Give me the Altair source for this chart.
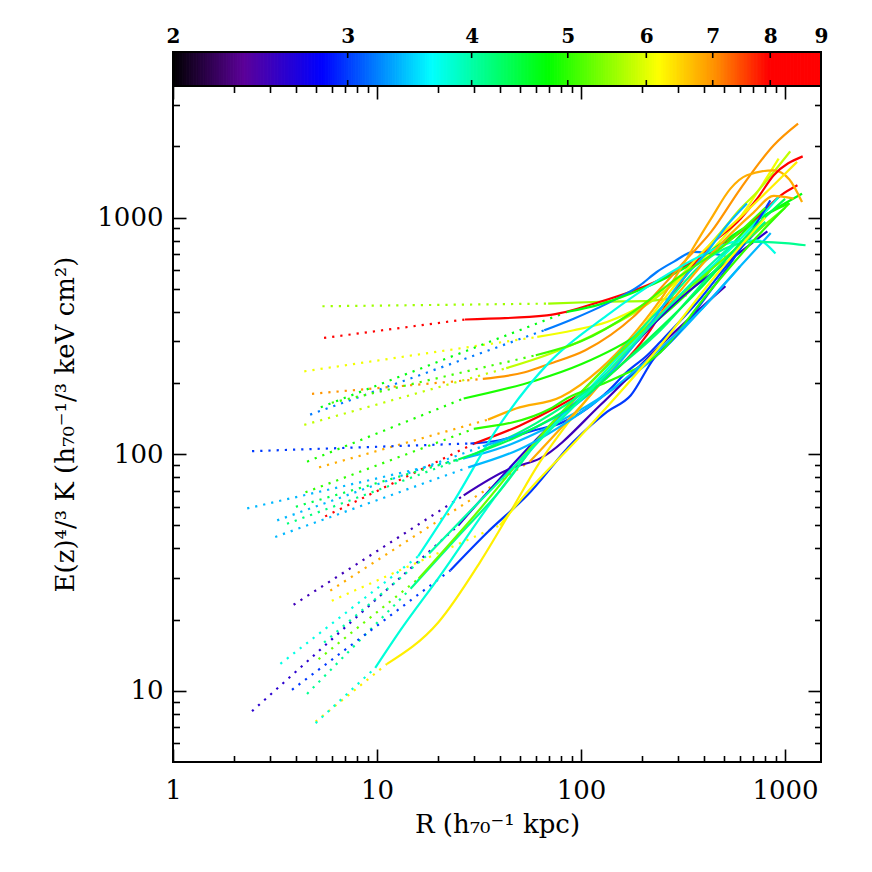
import altair as alt
import pandas as pd
import numpy as np

# ---- data: temperature (keV) and entropy profiles (R in kpc, K in keV cm^2)
temps = [5.6, 8.6, 6.1, 3.2, 4.7, 5.8, 7.0, 6.8, 3.0, 3.4,
         4.9, 8.3, 2.5, 2.6, 6.3, 3.8, 3.75, 4.1, 3.0, 5.3,
         6.8, 5.0, 4.2, 3.4, 3.4, 5.1, 4.4, 6.2, 4.0]

dot_r = [[5.4, 69], [5.5, 27], [4.4, 61], [4.7, 66], [5.3, 85],
         [4.4, 43], [4.8, 33], [5.2, 35], [2.44, 28.7], [2.31, 26.6],
         [4.54, 26.6], [5.57, 30], [3.9, 26.6], [2.44, 25], [5.0, 11.2],
         [5.0, 9.8], [3.36, 15.9], [4.54, 14.6], [3.83, 22.9], [5.17, 16],
         [5.9, 56], [4.46, 29.8], [3.62, 30], [3.24, 33], [3.17, 28],
         [6.0, 60], [4.0, 25], [6.0, 40], [5.5, 18]]
dot_k = [[422, 433], [310, 371], [224, 313], [147, 334], [158, 399],
         [133, 231], [180, 208], [88, 140], [103, 111], [59, 96],
         [93, 172], [54.6, 111], [23.1, 67], [8.2, 50], [7.4, 13],
         [7.3, 12.5], [13, 37], [9.7, 27], [10.1, 32.3], [13.6, 29.8],
         [26.5, 93], [69, 128], [50.8, 100], [52.5, 108], [44.7, 88],
         [165, 262], [60, 95], [24, 50], [16, 38]]

sol_r = [[69, 124, 219, 330],
         [27, 68, 124, 230, 385, 520, 730, 950, 1150],
         [61, 92, 134, 307, 600, 930],
         [66, 92, 134, 195, 235, 284, 356, 510],
         [85, 124, 200, 330, 600, 1000, 1211],
         [43, 70, 124, 250, 485, 605, 729, 880, 1060],
         [33, 53, 70, 105, 180, 262, 331, 434, 605, 880, 1158],
         [35, 48, 80, 124, 245, 434, 540, 650, 880, 1050, 1211],
         [28.7, 38.7, 58.6, 79, 107, 134, 168, 211, 245, 385, 604, 800],
         [26.6, 45, 69, 120, 245, 400, 620, 850],
         [26.6, 60, 100, 200, 400, 700, 1050],
         [30, 50, 79, 115, 156, 211, 284, 415, 605, 730, 880, 1220],
         [26.6, 45, 63, 124, 188, 245, 510],
         [25, 68, 130, 318, 448, 605, 819],
         [11.2, 20, 32, 45, 63, 82, 130, 219, 385, 600, 900, 1145],
         [9.8, 13, 20.4, 35, 60, 110, 200, 350, 560, 930],
         [15.9, 24, 38.7, 70, 134, 245, 400, 560, 730, 897],
         [14.6, 25, 40, 68, 130, 250, 450, 700, 1000, 1260],
         [22.9, 35, 54.5, 92, 134, 175, 227, 284, 415, 605, 847],
         [16, 30, 68, 130, 250, 450, 700, 1000],
         [56, 100, 200, 300, 434, 700, 880, 1102],
         [29.8, 71, 85, 134, 245, 420, 700, 1050],
         [30, 60, 120, 250, 420, 600, 800],
         [33, 60, 110, 200, 307, 415, 520, 650],
         [28, 50, 100, 200, 400, 600],
         [60, 100, 180, 300, 500, 800],
         [25, 50, 100, 200, 400, 700, 1000],
         [40, 52, 100, 245, 450, 800],
         [18, 30, 60, 120, 240, 420, 600]]
sol_k = [[433, 441, 445, 470],
         [371, 386, 441, 535, 680, 790, 1000, 1240, 1370],
         [313, 334, 362, 552, 1000, 1775],
         [334, 374, 433, 518, 589, 650, 716, 690],
         [399, 430, 500, 620, 880, 1150, 1263],
         [231, 265, 330, 480, 870, 1092, 1284, 1560, 1905],
         [208, 222, 241, 275, 380, 535, 671, 870, 1326, 2022, 2495],
         [140, 156, 175, 229, 450, 990, 1326, 1510, 1585, 1450, 1164],
         [111, 114, 126, 135, 156, 183, 223, 262, 299, 455, 740, 950],
         [96, 110, 130, 170, 270, 420, 640, 860],
         [172, 205, 240, 330, 560, 950, 1150],
         [111, 132, 161, 195, 237, 320, 480, 740, 990, 1203, 1510, 1815],
         [67, 87, 96, 161, 230, 288, 513],
         [50, 128, 215, 469, 589, 716, 875],
         [13, 19.5, 35, 57, 93, 128, 210, 380, 700, 1000, 1400, 1720],
         [12.5, 18, 30.7, 60, 110, 190, 330, 520, 760, 1223],
         [37, 64, 128, 245, 386, 552, 700, 790, 802, 705],
         [27, 45, 70, 128, 230, 420, 700, 790, 780, 764],
         [32.3, 47, 67, 113, 151, 177, 253, 308, 469, 740, 1183],
         [29.8, 55, 128, 230, 400, 620, 850, 1100],
         [93, 160, 320, 480, 700, 1050, 1236, 1203],
         [128, 156, 172, 202, 270, 480, 800, 1150],
         [100, 135, 200, 340, 560, 760, 960],
         [108, 130, 180, 320, 535, 716, 928, 1146],
         [88, 105, 150, 240, 420, 620],
         [262, 300, 400, 560, 760, 1100],
         [95, 120, 170, 290, 520, 900, 1200],
         [50, 66, 120, 288, 560, 1000],
         [38, 60, 110, 200, 380, 620, 820]]

# axis ticks / labels
x_major = [1, 10, 100, 1000]
x_minor = [2, 3, 4, 5, 6, 7, 8, 9, 20, 30, 40, 50, 60, 70, 80, 90,
           200, 300, 400, 500, 600, 700, 800, 900]
y_major = [10, 100, 1000]
y_minor = [6, 7, 8, 9, 20, 30, 40, 50, 60, 70, 80, 90,
           200, 300, 400, 500, 600, 700, 800, 900, 2000, 3000]
cb_labels = [2, 3, 4, 5, 6, 7, 8, 9]
cb_ticks = [3, 4, 5, 6, 7, 8]

# colour table (rainbow), stops in keV
c_dom = [2, 2.36, 2.83, 3.65, 4.78, 6.18, 7.07, 7.98, 9]
c_rng = ['#000000', '#5c0099', '#0000ff', '#00ffff', '#00ff00',
         '#ffff00', '#ff8c00', '#ff0000', '#ff0000']

# ---- build tables
rows_d, rows_s = [], []
for i, t in enumerate(temps):
    for j, (r, k) in enumerate(zip(dot_r[i], dot_k[i])):
        rows_d.append(dict(id=i, T=t, r=r, K=k, o=j))
    for j, (r, k) in enumerate(zip(sol_r[i], sol_k[i])):
        rows_s.append(dict(id=i, T=t, r=r, K=k, o=j))
df_d = pd.DataFrame(rows_d)
df_s = pd.DataFrame(rows_s)

n = 280
edges = 2 * 4.5 ** (np.arange(n + 1) / n)
df_cb = pd.DataFrame({'t0': edges[:-1], 't1': edges[1:],
                      'tm': np.sqrt(edges[:-1] * edges[1:])})
df_cbt = pd.DataFrame({'v': cb_ticks})
df_cbb = pd.DataFrame({'a': [2], 'b': [9]})
df_ax = pd.DataFrame({'r': [1.0], 'K': [10.0]})

W, H = 648, 676
CBH = 34
FONT = 'DejaVu Serif'

xs = alt.Scale(type='log', domain=[1, 1500], nice=False)
ys = alt.Scale(type='log', domain=[5, 3600], nice=False)
cs = alt.Scale(type='log', domain=c_dom, range=c_rng, interpolate='rgb')
cbs = alt.Scale(type='log', domain=[2, 9], nice=False)

noax = dict(grid=False, domain=False, title=None)

dotted = alt.Chart(df_d).mark_line(strokeDash=[2.2, 6], strokeWidth=2.2,
                                   strokeCap='butt').encode(
    x=alt.X('r:Q', scale=xs, axis=alt.Axis(
        orient='bottom', values=x_major, format='d', ticks=False, domain=False,
        grid=False, labelFont=FONT, labelFontSize=26, labelColor='black',
        labelPadding=15, labelFlush=False, labelOverlap=False,
        title='R (h₇₀⁻¹ kpc)', titleFont=FONT, titleFontSize=26,
        titleFontWeight='normal', titleColor='black', titlePadding=8)),
    y=alt.Y('K:Q', scale=ys, axis=alt.Axis(
        orient='left', values=y_major, format='d', ticks=False, domain=False,
        grid=False, labelFont=FONT, labelFontSize=26, labelColor='black',
        labelPadding=10, labelFlush=False, labelOverlap=False,
        title='E(z)⁴/³ K (h₇₀⁻¹/³ keV cm²)', titleFont=FONT, titleFontSize=26,
        titleFontWeight='normal', titleColor='black', titlePadding=18)),
    color=alt.Color('T:Q', scale=cs, legend=None),
    detail='id:N',
    order='o:Q')

solid = alt.Chart(df_s).mark_line(strokeWidth=2.2, interpolate='monotone').encode(
    x=alt.X('r:Q', scale=xs, axis=None),
    y=alt.Y('K:Q', scale=ys, axis=None),
    color=alt.Color('T:Q', scale=cs, legend=None),
    detail='id:N',
    order='o:Q')


def tick_layer(xorient, yorient, xvals, yvals, size):
    return alt.Chart(df_ax).mark_point(opacity=0).encode(
        x=alt.X('r:Q', scale=xs, axis=alt.Axis(
            orient=xorient, offset=-H, values=xvals, tickSize=size,
            tickWidth=1.6, tickColor='black', labels=False, **noax)),
        y=alt.Y('K:Q', scale=ys, axis=alt.Axis(
            orient=yorient, offset=-W, values=yvals, tickSize=size,
            tickWidth=1.6, tickColor='black', labels=False, **noax)))


t1 = tick_layer('top', 'right', x_major, y_major, 13)
t2 = tick_layer('top', 'right', x_minor, y_minor, 6.5)
t3 = tick_layer('bottom', 'left', x_major, y_major, 13)
t4 = tick_layer('bottom', 'left', x_minor, y_minor, 6.5)

cbar = alt.Chart(df_cb).mark_rect(strokeWidth=1).encode(
    x=alt.X('t0:Q', scale=cbs, axis=alt.Axis(
        orient='top', offset=CBH, values=cb_labels, format='d', ticks=False,
        labelFont=FONT, labelFontSize=20, labelFontWeight='bold',
        labelColor='black', labelPadding=6, labelFlush=False,
        labelOverlap=False, **noax)),
    x2='t1:Q',
    y=alt.value(-CBH), y2=alt.value(0),
    fill=alt.Fill('tm:Q', scale=cs, legend=None),
    stroke=alt.Stroke('tm:Q', scale=cs, legend=None))

cb_top = alt.Chart(df_cbt).mark_rule(color='black', strokeWidth=1.6).encode(
    x=alt.X('v:Q', scale=cbs, axis=None),
    y=alt.value(-CBH), y2=alt.value(-CBH + 6))
cb_bot = alt.Chart(df_cbt).mark_rule(color='black', strokeWidth=1.6).encode(
    x=alt.X('v:Q', scale=cbs, axis=None),
    y=alt.value(-6), y2=alt.value(0))
cb_box = alt.Chart(df_cbb).mark_rect(fillOpacity=0, stroke='black',
                                     strokeWidth=2).encode(
    x=alt.X('a:Q', scale=cbs, axis=None), x2='b:Q',
    y=alt.value(-CBH), y2=alt.value(0))

chart = alt.layer(
    dotted, solid, t1, t2, t3, t4, cbar, cb_top, cb_bot, cb_box
).resolve_scale(
    x='independent'
).resolve_axis(
    x='independent', y='independent'
).properties(
    width=W, height=H,
    autosize=alt.AutoSizeParams(type='none'),
    padding={'left': 165, 'top': 78, 'right': 43, 'bottom': 102},
    background='white'
).configure_view(stroke='black', strokeWidth=2)

chart.save('out.html', embed_options={'renderer': 'svg', 'actions': False})
